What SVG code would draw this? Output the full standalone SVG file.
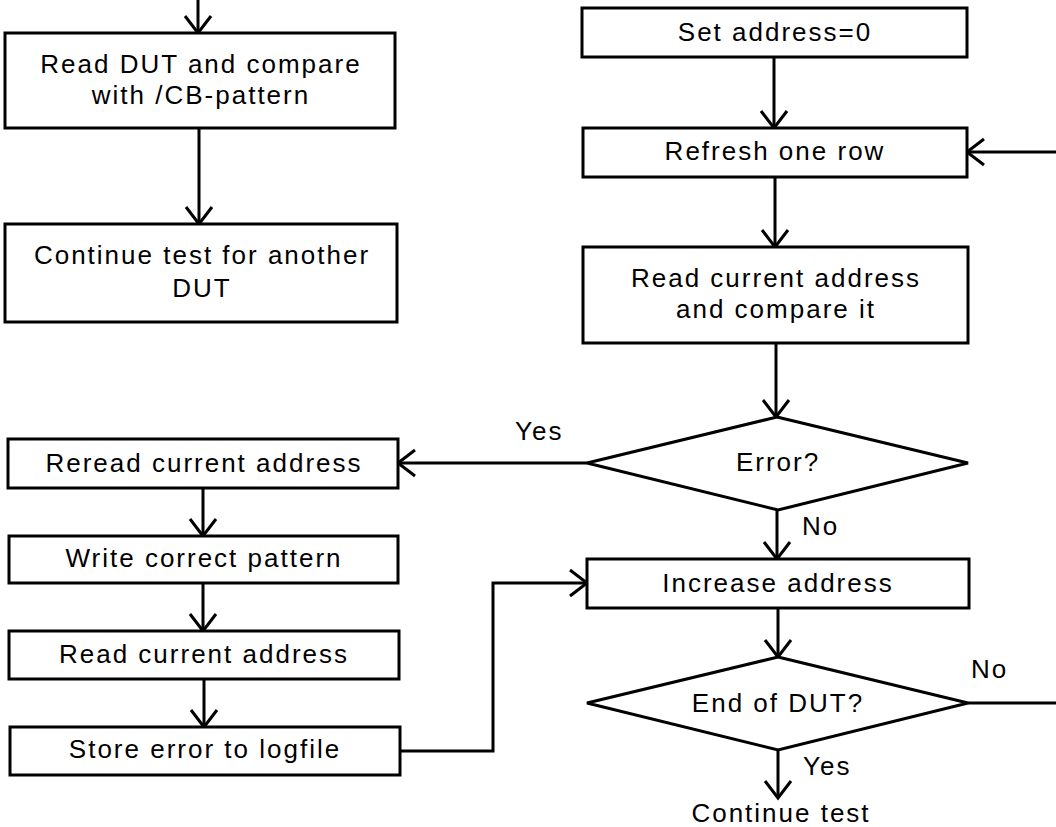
<svg xmlns="http://www.w3.org/2000/svg" width="1056" height="827" viewBox="0 0 1056 827">
<style>
.box{fill:#fff;stroke:#000;stroke-width:3}
.t{font-family:"Liberation Sans",Arial,sans-serif;font-size:26px;letter-spacing:2px;fill:#000;text-anchor:middle}
.l{font-family:"Liberation Sans",Arial,sans-serif;font-size:26px;letter-spacing:2px;fill:#000}
.c{fill:none;stroke:#000;stroke-width:3}
</style>
<defs>
<marker id="ah" markerUnits="userSpaceOnUse" markerWidth="40" markerHeight="40" viewBox="-20 -20 40 40" refX="0" refY="0" orient="auto">
<path d="M-17,-13 L0,0 L-17,13" fill="none" stroke="#000" stroke-width="3"/>
</marker>
</defs>
<rect width="1056" height="827" fill="#fff"/>
<g id="connectors">
<line class="c" x1="198" y1="0" x2="198" y2="33" marker-end="url(#ah)"/>
<line class="c" x1="199" y1="128" x2="199" y2="224" marker-end="url(#ah)"/>
<line class="c" x1="774" y1="57" x2="774" y2="128" marker-end="url(#ah)"/>
<line class="c" x1="1060" y1="152" x2="967" y2="152" marker-end="url(#ah)"/>
<line class="c" x1="775" y1="177" x2="775" y2="247" marker-end="url(#ah)"/>
<line class="c" x1="776" y1="343" x2="776" y2="417" marker-end="url(#ah)"/>
<line class="c" x1="587" y1="463" x2="398" y2="463" marker-end="url(#ah)"/>
<line class="c" x1="777" y1="510" x2="777" y2="559" marker-end="url(#ah)"/>
<line class="c" x1="203" y1="488" x2="203" y2="536" marker-end="url(#ah)"/>
<line class="c" x1="203" y1="583" x2="203" y2="631" marker-end="url(#ah)"/>
<line class="c" x1="204" y1="679" x2="204" y2="727" marker-end="url(#ah)"/>
<polyline class="c" points="400,751 493,751 493,583 587,583" marker-end="url(#ah)"/>
<line class="c" x1="778" y1="608" x2="778" y2="657" marker-end="url(#ah)"/>
<line class="c" x1="968" y1="703" x2="1060" y2="703"/>
<line class="c" x1="778" y1="750" x2="778" y2="798" marker-end="url(#ah)"/>
</g>
<g id="n_read_dut">
<rect class="box" x="5" y="33" width="390" height="95"/>
<text class="t" x="201" y="73">Read DUT and compare</text>
<text class="t" x="201" y="104">with /CB-pattern</text>
</g>
<g id="n_continue_dut">
<rect class="box" x="5" y="224" width="392" height="98"/>
<text class="t" x="202" y="264">Continue test for another</text>
<text class="t" x="202" y="297">DUT</text>
</g>
<g id="n_set_address">
<rect class="box" x="582" y="8" width="385" height="49"/>
<text class="t" x="775" y="41">Set address=0</text>
</g>
<g id="n_refresh">
<rect class="box" x="583" y="128" width="384" height="49"/>
<text class="t" x="775" y="160">Refresh one row</text>
</g>
<g id="n_read_compare">
<rect class="box" x="583" y="247" width="385" height="96"/>
<text class="t" x="776" y="287">Read current address</text>
<text class="t" x="776" y="318">and compare it</text>
</g>
<g id="n_error">
<polygon class="box" points="777,417 968,463 778,510 587,463"/>
<text class="t" x="778" y="471">Error?</text>
</g>
<g id="n_increase">
<rect class="box" x="587" y="559" width="382" height="49"/>
<text class="t" x="778" y="592">Increase address</text>
</g>
<g id="n_end">
<polygon class="box" points="778,657 968,703 778,750 587,703"/>
<text class="t" x="778" y="712">End of DUT?</text>
</g>
<g id="n_reread">
<rect class="box" x="8" y="439" width="390" height="49"/>
<text class="t" x="204" y="472">Reread current address</text>
</g>
<g id="n_write">
<rect class="box" x="9" y="536" width="389" height="47"/>
<text class="t" x="204" y="567">Write correct pattern</text>
</g>
<g id="n_read_addr">
<rect class="box" x="9" y="631" width="390" height="48"/>
<text class="t" x="204" y="663">Read current address</text>
</g>
<g id="n_store">
<rect class="box" x="10" y="727" width="390" height="48"/>
<text class="t" x="205" y="758">Store error to logfile</text>
</g>
<g id="labels">
<text class="l" x="515" y="440">Yes</text>
<text class="l" x="802" y="535">No</text>
<text class="l" x="971" y="678">No</text>
<text class="l" x="803" y="775">Yes</text>
<text class="t" x="781" y="822">Continue test</text>
</g>
</svg>
